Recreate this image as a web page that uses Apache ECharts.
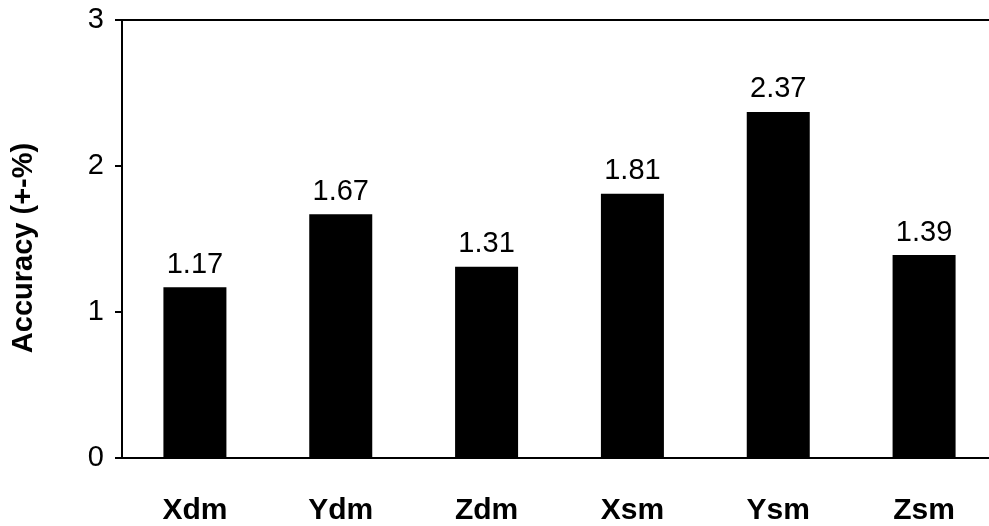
<!DOCTYPE html>
<html><head><meta charset="utf-8">
<script src="https://cdn.jsdelivr.net/npm/echarts@6/dist/echarts.min.js"></script>
<style>html,body{margin:0;padding:0;background:#fff}#c{width:989px;height:526px}</style>
</head><body><div id="c"></div>
<script>
const categories = ['Xdm','Ydm','Zdm','Xsm','Ysm','Zsm'];
const values = [1.17,1.67,1.31,1.81,2.37,1.39];
const yTicks = [0,1,2,3];
const FF = 'Liberation Sans, Arial, Helvetica';
const chart = echarts.init(document.getElementById('c'));
chart.setOption({
  animation:false,
  grid:{left:122,width:875,top:20,bottom:68,outerBoundsMode:'none',containLabel:false},
  xAxis:[{
    type:'category',data:categories,
    axisLine:{lineStyle:{color:'#000',width:2}},
    axisTick:{show:false},
    axisLabel:{color:'#000',fontFamily:FF,fontWeight:'bold',fontSize:30,margin:38}
  },{
    type:'category',data:categories,position:'top',
    axisLine:{lineStyle:{color:'#000',width:2}},
    axisTick:{show:false},axisLabel:{show:false}
  }],
  yAxis:{
    type:'value',min:0,max:3,interval:1,
    name:'Accuracy (+-%)',nameLocation:'middle',nameGap:84,
    nameTextStyle:{color:'#000',fontFamily:FF,fontWeight:'bold',fontSize:29,padding:[0,0,0,-18]},
    axisLine:{show:true,lineStyle:{color:'#000',width:2}},
    axisTick:{show:true,length:7,lineStyle:{color:'#000',width:2}},
    splitLine:{show:false},
    axisLabel:{color:'#000',fontFamily:FF,fontSize:29,margin:18,
      formatter:v=>yTicks.includes(v)?String(v):''}
  },
  series:[{
    type:'bar',data:values,barWidth:63,
    itemStyle:{color:'#000'},
    label:{show:true,position:'top',distance:8,color:'#000',fontFamily:FF,fontSize:29,
      formatter:p=>p.value.toFixed(2)}
  }]
});
</script></body></html>
